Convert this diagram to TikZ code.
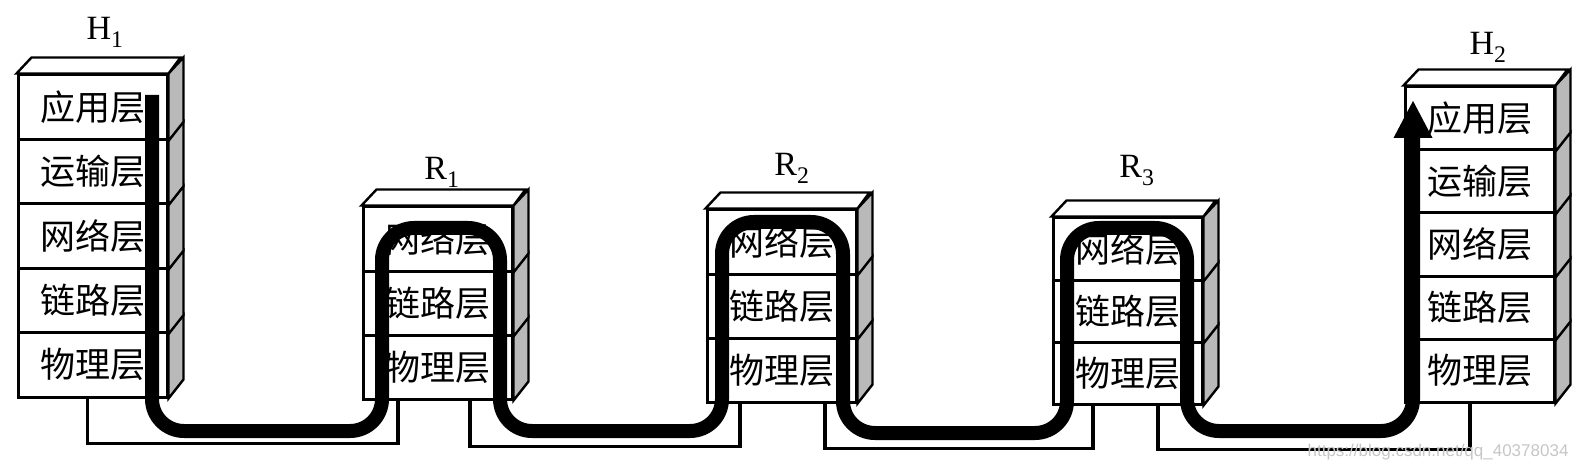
\documentclass[tikz,border=0pt]{standalone}
\usepackage{fontspec}
\setmainfont{Liberation Serif}
\newfontfamily\cjk{Noto Sans CJK SC}
\newfontfamily\wmfont{Liberation Sans}
\usetikzlibrary{arrows.meta, calc}
\definecolor{side_grey}{RGB}{185, 185, 185}

\begin{document}
\begin{tikzpicture}[x=1pt, y=-1pt,
    layer/.style={draw, line width=3pt, fill=white, minimum width=149pt,
                  inner sep=0pt, font=\cjk\fontsize{35}{35}\selectfont},
    side/.style={draw, line width=2.4pt, fill=side_grey},
    lbl/.style={anchor=base, font=\fontsize{34}{34}\selectfont},
    link/.style={line width=3.2pt},
    flow/.style={line width=14pt, rounded corners=32pt}]
\useasboundingbox (0,0) rectangle (1578,470);

% --- Protocol stacks (bottom layer = 1) ---
\foreach \nm/\x/\y/\n/\h in {h1/18/75/5/64.4, r1/363/207/3/64, r2/707/210/3/64,
                             r3/1053/218/3/62, h2/1405/87/5/63} {
  \foreach \k/\txt in {1/物理层, 2/链路层, 3/网络层, 4/运输层, 5/应用层} {
    \ifnum\k>\n\relax\else
      \node[layer, minimum height=\h] (\nm-\k) at (\x+74.5, \y+\n*\h-\k*\h+0.5*\h) {\txt};
      \draw[side] (\nm-\k.north east) -- ++(15,-16) -- ++(0,\h) -- (\nm-\k.south east) -- cycle;
    \fi
  }
  \draw[side, fill=white] (\nm-\n.north west) -- ++(15,-16) -- ++(149,0)
    -- (\nm-\n.north east) -- cycle;
}

% --- Names ---
\node[lbl] (h1lab) at (105,40) {H\textsubscript{1}};
\node[lbl] (r1lab) at (442,180) {R\textsubscript{1}};
\node[lbl] (r2lab) at (792,176) {R\textsubscript{2}};
\node[lbl] (r3lab) at (1137,178) {R\textsubscript{3}};
\node[lbl] (h2lab) at (1488,55) {H\textsubscript{2}};

% --- Physical links ---
\draw[link] ([xshift=-5pt]h1-1.south) -- ++(0,45) -| ([xshift=-39.5pt]r1-1.south);
\draw[link] ([xshift=32.5pt]r1-1.south) -- ++(0,46) -| ([xshift=-41.5pt]r2-1.south);
\draw[link] ([xshift=43.5pt]r2-1.south) -- ++(0,45) -| ([xshift=-34.5pt]r3-1.south);
\draw[link] ([xshift=30.5pt]r3-1.south) -- ++(0,44) -| ([xshift=-9.5pt]h2-1.south);

% --- Data path ---
\coordinate (src) at (152,95);
\coordinate (dst) at (1413,100);
\draw[flow, -{Triangle[width=36pt, length=38pt]}] (src) -- (152,431) -- (382,431)
  -- (382,228) -- (500,228) -- (500,431) -- (722,431) -- (722,222) -- (843,222)
  -- (843,433) -- (1067,433) -- (1067,228) -- (1187,228) -- (1187,431) -- (1413,431)
  -- (dst);

\node[anchor=base east, font=\wmfont\fontsize{17}{17}\selectfont, text=gray!45]
  (wm) at (1572,456) {https://blog.csdn.net/qq\_40378034};
\end{tikzpicture}
\end{document}
